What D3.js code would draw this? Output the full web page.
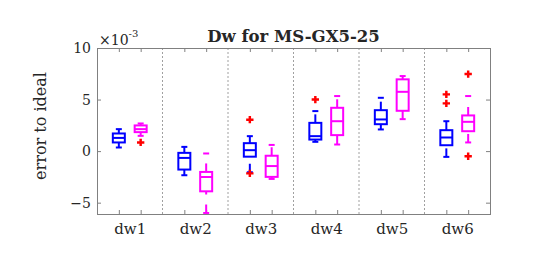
<!DOCTYPE html>
<html>
<head>
<meta charset="utf-8">
<script src="https://cdn.jsdelivr.net/npm/d3@7"></script>
<style>
  body { margin: 0; background: #fff; }
  text { font-family: 'DejaVu Serif', serif; fill: #262626; }
</style>
</head>
<body>
<div id="chart"></div>
<script>
// values in units of 1e-3
const groups = ['dw1', 'dw2', 'dw3', 'dw4', 'dw5', 'dw6'];

// [lower whisker, q1, median, q3, upper whisker]
const blueStats = [
  [0.35, 0.84, 1.28, 1.71, 2.13],
  [-2.34, -1.79, -0.66, -0.17, 0.41],
  [-2.05, -0.54, 0.09, 0.77, 1.45],
  [0.9, 1.12, 1.45, 2.74, 3.88],
  [2.1, 2.61, 3.07, 3.97, 5.17],
  [-0.56, 0.57, 1.32, 2.03, 2.9],
];
const magentaStats = [
  [1.48, 1.84, 2.13, 2.49, 2.68],
  [-6.0, -3.9, -2.51, -2.02, -0.23],
  [-2.7, -2.5, -1.45, -0.45, 0.6],
  [0.64, 1.55, 2.9, 4.2, 5.34],
  [3.1, 3.91, 5.75, 6.96, 7.28],
  [0.84, 1.93, 2.84, 3.46, 5.34],
];
const blueOutliers = [[], [], [3.05, -2.16], [5.0], [], [5.5, 4.63]];
const magentaOutliers = [[0.84], [], [], [], [], [7.47, -0.5]];

const yTicks = [-5, 0, 5, 10];

const width = 542;
const height = 260;
const margin = { top: 48, right: 52, bottom: 46, left: 97 };

const svg = d3.select('#chart')
  .append('svg')
  .attr('width', width)
  .attr('height', height);

const x = d3.scaleLinear().domain([0, 18]).range([margin.left, width - margin.right]);
const y = d3.scaleLinear().domain([-6.1, 10]).range([height - margin.bottom, margin.top]);

const series = [
  { stats: blueStats, outliers: blueOutliers, color: '#0000ff', offset: 1 },
  { stats: magentaStats, outliers: magentaOutliers, color: '#ff00ff', offset: 2 },
];
const boxPositions = [];
groups.forEach((g, i) => { boxPositions.push(3 * i + 1, 3 * i + 2); });

// group separators
svg.append('g')
  .selectAll('line')
  .data(d3.range(1, groups.length))
  .join('line')
  .attr('x1', (d) => x(3 * d))
  .attr('x2', (d) => x(3 * d))
  .attr('y1', y.range()[1])
  .attr('y2', y.range()[0])
  .attr('stroke', '#a0a0a0')
  .attr('stroke-width', 1)
  .attr('stroke-dasharray', '2,2');

// axes box and ticks
const axisColor = '#808080';
function styleAxis(g) {
  g.select('.domain').remove();
  g.selectAll('.tick line').attr('stroke', axisColor);
  g.selectAll('.tick text').attr('fill', '#262626').style('font-family', "'DejaVu Serif', serif");
}

svg.append('g')
  .attr('transform', `translate(${margin.left},0)`)
  .call(d3.axisLeft(y).tickValues(yTicks).tickSizeInner(-4).tickSizeOuter(0).tickPadding(6))
  .call(styleAxis)
  .selectAll('text').style('font-size', '14px');

svg.append('g')
  .attr('transform', `translate(${width - margin.right},0)`)
  .call(d3.axisRight(y).tickValues(yTicks).tickSizeInner(-4).tickSizeOuter(0).tickFormat(''))
  .call(styleAxis);

svg.append('g')
  .attr('transform', `translate(0,${height - margin.bottom})`)
  .call(d3.axisBottom(x).tickValues(boxPositions).tickSizeInner(-4).tickSizeOuter(0).tickFormat(''))
  .call(styleAxis);

svg.append('g')
  .attr('transform', `translate(0,${margin.top})`)
  .call(d3.axisTop(x).tickValues(boxPositions).tickSizeInner(-4).tickSizeOuter(0).tickFormat(''))
  .call(styleAxis);

// group labels
svg.append('g')
  .attr('transform', `translate(0,${height - margin.bottom})`)
  .call(d3.axisBottom(x).tickValues(groups.map((g, i) => 3 * i + 1.5)).tickSize(0).tickPadding(9)
    .tickFormat((d, i) => groups[i]))
  .call(styleAxis)
  .selectAll('text').style('font-size', '15px');

svg.append('rect')
  .attr('x', margin.left + 0.5)
  .attr('y', margin.top + 0.5)
  .attr('width', x.range()[1] - x.range()[0])
  .attr('height', y.range()[0] - y.range()[1])
  .attr('fill', 'none')
  .attr('stroke', axisColor)
  .attr('stroke-width', 1);

// boxes
const boxW = 12;
const capW = 6;
series.forEach((s) => {
  const g = svg.append('g')
    .attr('stroke', s.color)
    .attr('stroke-width', 2)
    .attr('fill', 'none');

  s.stats.forEach((st, i) => {
    const [lo, q1, med, q3, hi] = st;
    const cx = x(3 * i + s.offset);
    // whiskers, drawn from the lower value upward
    g.append('line')
      .attr('x1', cx).attr('x2', cx)
      .attr('y1', y(q3)).attr('y2', y(hi))
      .attr('stroke-dasharray', '8.5,10');
    g.append('line')
      .attr('x1', cx).attr('x2', cx)
      .attr('y1', y(lo)).attr('y2', y(q1))
      .attr('stroke-dasharray', '8.5,10');
    // caps
    [lo, hi].forEach((v) => {
      g.append('line')
        .attr('x1', cx - capW / 2).attr('x2', cx + capW / 2)
        .attr('y1', y(v)).attr('y2', y(v));
    });
    // box
    g.append('rect')
      .attr('x', cx - boxW / 2)
      .attr('y', y(q3))
      .attr('width', boxW)
      .attr('height', y(q1) - y(q3));
    // median
    g.append('line')
      .attr('x1', cx - boxW / 2).attr('x2', cx + boxW / 2)
      .attr('y1', y(med)).attr('y2', y(med));
  });
});

// outliers
series.forEach((s) => {
  const pts = [];
  s.outliers.forEach((arr, i) => arr.forEach((v) => pts.push({ px: 3 * i + s.offset, v })));
  svg.append('g')
    .selectAll('path')
    .data(pts)
    .join('path')
    .attr('d', d3.symbol(d3.symbolCross, 30))
    .attr('transform', (d) => `translate(${x(d.px)},${y(d.v)})`)
    .attr('fill', '#ff0000');
});

// exponent label
const expo = svg.append('text')
  .attr('x', margin.left + 2)
  .attr('y', margin.top - 3)
  .style('font-size', '14px');
expo.append('tspan').text('×10');
expo.append('tspan').attr('dy', -8).style('font-size', '10px').text('-3');

// title
svg.append('text')
  .attr('x', (x.range()[0] + x.range()[1]) / 2)
  .attr('y', 42)
  .attr('text-anchor', 'middle')
  .style('font-size', '16.5px')
  .style('font-weight', 'bold')
  .text('Dw for MS-GX5-25');

// y label
svg.append('text')
  .attr('transform', `translate(46,${(y.range()[0] + y.range()[1]) / 2 - 5}) rotate(-90)`)
  .attr('text-anchor', 'middle')
  .style('font-size', '16px')
  .text('error to ideal');
</script>
</body>
</html>
